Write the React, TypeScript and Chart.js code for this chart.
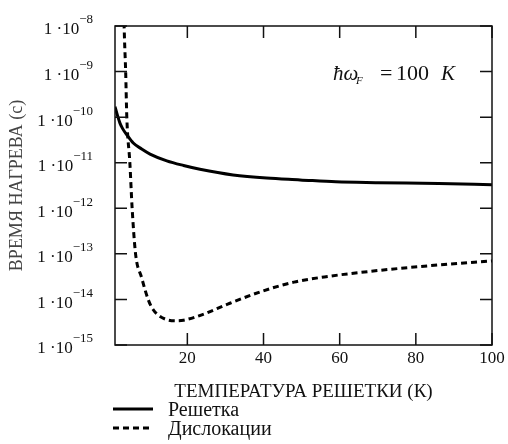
import React, { useEffect, useRef } from "react";
import { Chart, registerables } from "chart.js";

Chart.register(...registerables);

// Lattice (solid) heating time vs lattice temperature
const latticeT = [1, 1.5, 2.3, 3, 4.1, 5.8, 8, 10.2, 14.6, 19, 23.3, 32, 40.8, 49.6, 59, 70, 86, 100];
const latticeTime = [1.7e-10, 1.2e-10, 7.4e-11, 5.6e-11, 4.1e-11, 2.7e-11, 2.0e-11, 1.55e-11, 1.1e-11, 8.7e-12, 7.2e-12, 5.4e-12, 4.6e-12, 4.2e-12, 3.8e-12, 3.65e-12, 3.5e-12, 3.3e-12];

// Dislocations (dashed)
const dislocT = [3.3, 3.5, 3.8, 4.1, 4.9, 5.5, 6.4, 8.0, 9.7, 11, 12.4, 14.6, 17, 19, 23.8, 30.6, 39.5, 48, 57, 70, 86, 100];
const dislocTime = [2e-8, 5e-9, 1e-9, 1e-10, 1e-11, 1e-12, 1e-13, 3e-14, 1e-14, 6e-15, 4.5e-15, 3.6e-15, 3.4e-15, 3.5e-15, 4.6e-15, 7.9e-15, 1.5e-14, 2.4e-14, 3.2e-14, 4.3e-14, 5.7e-14, 7e-14];

const xTicks = [20, 40, 60, 80, 100];
const yTickExps = [-8, -9, -10, -11, -12, -13, -14, -15];
const xTitle = "ТЕМПЕРАТУРА РЕШЕТКИ (К)";
const yTitle = "ВРЕМЯ НАГРЕВА (с)";
const seriesNames = ["Решетка", "Дислокации"];

const SERIF = '"Liberation Serif", "Times New Roman", serif';

const decor = {
  id: "decor",
  afterDraw(chart: any) {
    const { ctx, chartArea: a, scales } = chart;
    const x = scales.x;
    const y = scales.y;
    ctx.save();
    // frame
    ctx.strokeStyle = "#111";
    ctx.lineWidth = 1.5;
    ctx.strokeRect(a.left, a.top, a.right - a.left, a.bottom - a.top);
    // inward ticks
    const TL = 12;
    ctx.beginPath();
    for (const v of xTicks) {
      const px = x.getPixelForValue(v);
      ctx.moveTo(px, a.bottom);
      ctx.lineTo(px, a.bottom - TL);
      ctx.moveTo(px, a.top);
      ctx.lineTo(px, a.top + TL);
    }
    for (const e of yTickExps) {
      const py = y.getPixelForValue(Math.pow(10, e));
      ctx.moveTo(a.left, py);
      ctx.lineTo(a.left + TL, py);
      ctx.moveTo(a.right, py);
      ctx.lineTo(a.right - TL, py);
    }
    ctx.stroke();

    ctx.fillStyle = "#111";
    // x tick labels
    ctx.font = `17px ${SERIF}`;
    ctx.textAlign = "center";
    ctx.textBaseline = "middle";
    for (const v of xTicks) {
      ctx.fillText(String(v), x.getPixelForValue(v), a.bottom + 14);
    }
    // y tick labels: 1·10^e
    const baseFont = `17px ${SERIF}`;
    const expFont = `13px ${SERIF}`;
    const rightEdge = a.left - 22;
    for (const e of yTickExps) {
      const py = y.getPixelForValue(Math.pow(10, e));
      const base = "1 ·10";
      const exp = "\u2212" + String(-e);
      ctx.font = expFont;
      const ew = ctx.measureText(exp).width;
      ctx.font = baseFont;
      const bw = ctx.measureText(base).width;
      ctx.textAlign = "left";
      ctx.textBaseline = "middle";
      const x0 = rightEdge - ew - bw;
      ctx.fillText(base, x0, py + 4);
      ctx.font = expFont;
      ctx.fillText(exp, x0 + bw, py - 6);
    }
    // x title
    ctx.font = `19px ${SERIF}`;
    ctx.textAlign = "center";
    ctx.textBaseline = "middle";
    ctx.fillText(xTitle, (a.left + a.right) / 2, a.bottom + 47);
    // y title
    ctx.save();
    ctx.font = `18px ${SERIF}`;
    ctx.fillStyle = "#444";
    ctx.translate(17, (a.top + a.bottom) / 2);
    ctx.rotate(-Math.PI / 2);
    ctx.fillText(yTitle, 0, 0);
    ctx.restore();

    // annotation ħω_F = 100 K
    ctx.textAlign = "left";
    ctx.textBaseline = "alphabetic";
    const by = 80;
    ctx.font = `italic 21px ${SERIF}`;
    ctx.fillText("\u0127\u03c9", 333, by);
    ctx.font = `italic 11px ${SERIF}`;
    ctx.fillText("F", 356, by + 4);
    ctx.font = `22px ${SERIF}`;
    ctx.fillText("=", 380, by);
    ctx.fillText("100", 396, by);
    ctx.font = `italic 21px ${SERIF}`;
    ctx.fillText("K", 441, by);

    // legend
    const ds = chart.data.datasets;
    const ly = [409, 428];
    for (let i = 0; i < ds.length; i++) {
      ctx.save();
      ctx.strokeStyle = "#000";
      ctx.lineWidth = ds[i].borderWidth;
      ctx.setLineDash(ds[i].borderDash || []);
      ctx.beginPath();
      ctx.moveTo(113, ly[i]);
      ctx.lineTo(153, ly[i]);
      ctx.stroke();
      ctx.restore();
      ctx.font = `20px ${SERIF}`;
      ctx.textBaseline = "middle";
      ctx.fillStyle = "#111";
      ctx.fillText(ds[i].label, 168, ly[i] + 2);
    }
    ctx.restore();
  },
};

export default function App() {
  const ref = useRef<HTMLCanvasElement | null>(null);
  useEffect(() => {
    document.body.style.margin = "0";
    const canvas = ref.current!;
    const chart = new Chart(canvas, {
      type: "line",
      data: {
        datasets: [
          {
            label: seriesNames[0],
            data: latticeT.map((t, i) => ({ x: t, y: latticeTime[i] })),
            borderColor: "#000",
            borderWidth: 3,
            pointRadius: 0,
            cubicInterpolationMode: "monotone",
            clip: 0,
          },
          {
            label: seriesNames[1],
            data: dislocT.map((t, i) => ({ x: t, y: dislocTime[i] })),
            borderColor: "#000",
            borderWidth: 3,
            borderDash: [6, 4],
            pointRadius: 0,
            cubicInterpolationMode: "monotone",
            clip: 0,
          },
        ],
      },
      options: {
        responsive: false,
        animation: false,
        devicePixelRatio: 1,
        layout: { padding: { left: 115, right: 16, top: 26, bottom: 99 } },
        plugins: { legend: { display: false }, tooltip: { enabled: false } },
        scales: {
          x: { type: "linear", min: 1, max: 100, display: false },
          y: { type: "logarithmic", min: 1e-15, max: 1e-8, display: false },
        },
      },
      plugins: [decor],
    } as any);
    return () => chart.destroy();
  }, []);
  return <canvas ref={ref} width={508} height={444} style={{ display: "block" }} />;
}
